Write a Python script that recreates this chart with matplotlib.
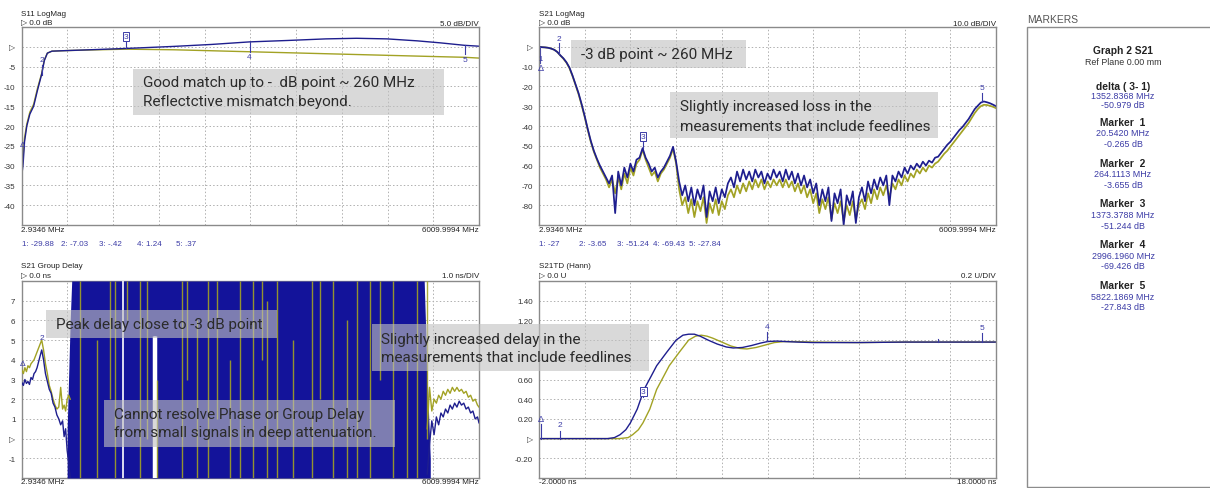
import numpy as np
import matplotlib
matplotlib.use("Agg")
import matplotlib.pyplot as plt
from matplotlib.patches import Rectangle

W, H = 1210, 489
fig = plt.figure(figsize=(W / 100, H / 100), dpi=100)

BLUE = "#1e1e8e"
YELLOW = "#a2a224"
FILLBLUE = "#13139a"
MARK = "#3b3ba6"
FRAME = "#8a8a8a"
GRIDC = "#b0b0b0"
SMALL = ["Liberation Sans", "DejaVu Sans"]
NOTE = ["Roboto", "DejaVu Sans"]

# ---------------- data ----------------
marker_mhz = [20.542, 264.1113, 1373.3788, 2996.1960, 5822.1869]

# S11 return loss
s11_freq = [3, 10, 20.542, 40, 70, 110, 160, 210, 264.1113, 300, 340, 400, 600, 900,
            1373.3788, 2000, 2500, 2996.196, 3500, 4000, 4400, 4800, 5200, 5500, 5822.1869, 6010]
s11_fixture = [-35, -31.5, -29.88, -24, -20, -17, -15, -11, -7.03, -3.5, -1.6, -1.1, -0.95, -0.75,
               -0.42, 0.1, 0.6, 1.24, 1.6, 2.0, 2.15, 2.0, 1.5, 1.0, 0.37, 0.15]
s11_feedline = [-33, -30, -28, -23, -19.5, -16.5, -14.5, -10.5, -6.8, -3.3, -1.6, -1.1, -0.95, -0.8,
                -0.6, -0.75, -1.0, -1.25, -1.5, -1.75, -1.95, -2.15, -2.35, -2.5, -2.65, -2.85]
s11_readout = [-29.88, -7.03, -0.42, 1.24, 0.37]

# S21 insertion loss, 151-point sweep
s21_start, s21_stop, s21_points = 2.9346, 6009.9994, 151
s21_fixture = [
    0.0, -0.2, -0.3, -0.5, -0.9, -1.5, -2.6, -4.3, -5.8, -7.8,
    -10.5, -14.5, -19.0, -23.5, -29.0, -35.0, -41.5, -47.5, -52.5, -56.5,
    -60.0, -63.0, -66.0, -69.0, -65.0, -84.0, -63.0, -70.0, -61.0, -66.0,
    -59.0, -63.0, -57.0, -56.0, -51.2, -56.0, -59.0, -63.0, -61.0, -66.0,
    -63.0, -61.0, -58.0, -55.0, -50.5, -58.0, -68.0, -75.0, -70.0, -78.0,
    -71.0, -80.0, -72.0, -77.0, -70.0, -86.0, -73.0, -78.0, -71.0, -79.0,
    -72.0, -76.0, -69.0, -66.0, -71.0, -63.0, -68.0, -62.0, -67.0, -63.0,
    -68.0, -62.0, -66.0, -63.0, -69.0, -64.0, -67.0, -62.0, -66.0, -63.0,
    -68.0, -62.0, -67.0, -63.0, -69.0, -64.0, -70.0, -65.0, -71.0, -67.0,
    -74.0, -69.0, -80.0, -72.0, -78.0, -71.0, -88.0, -74.0, -79.0, -72.0,
    -90.0, -75.0, -80.0, -73.0, -89.0, -76.0, -71.0, -78.0, -68.0, -74.0,
    -67.0, -72.0, -66.0, -70.0, -65.0, -80.0, -65.0, -68.0, -63.0, -66.0,
    -61.0, -64.0, -60.0, -62.0, -59.0, -61.0, -58.0, -60.0, -57.5, -58.5,
    -56.0, -55.5, -53.5, -51.5, -49.5, -48.0, -46.0, -44.0, -42.0, -40.5,
    -38.5, -36.5, -34.0, -31.5, -29.8, -28.2, -27.6, -28.0, -28.5, -29.2,
    -30.0]
s21_feedline = [
    0.0, -0.2, -0.3, -0.5, -0.9, -1.5, -2.6, -4.4, -6.0, -8.0,
    -10.8, -14.8, -19.3, -24.0, -29.5, -35.5, -42.0, -48.0, -53.0, -57.0,
    -61.0, -64.0, -67.0, -71.0, -67.0, -74.0, -66.0, -72.0, -64.0, -69.0,
    -61.0, -65.0, -59.0, -57.0, -52.0, -57.0, -61.0, -65.0, -63.0, -68.0,
    -64.0, -62.0, -59.0, -56.0, -51.5, -59.0, -72.0, -80.0, -76.0, -84.0,
    -77.0, -86.0, -78.0, -83.0, -76.0, -89.0, -79.0, -84.0, -77.0, -85.0,
    -78.0, -82.0, -75.0, -72.0, -76.0, -70.0, -74.0, -69.0, -73.0, -68.0,
    -72.0, -67.0, -71.0, -67.0, -72.0, -68.0, -71.0, -67.0, -70.0, -67.0,
    -71.0, -67.0, -71.0, -68.0, -73.0, -69.0, -74.0, -70.0, -76.0, -72.0,
    -79.0, -74.0, -84.0, -77.0, -82.0, -76.0, -87.0, -79.0, -84.0, -78.0,
    -88.0, -80.0, -85.0, -78.0, -87.0, -80.0, -77.0, -82.0, -74.0, -79.0,
    -72.0, -77.0, -71.0, -75.0, -70.0, -76.0, -69.0, -72.0, -67.0, -70.0,
    -65.0, -68.0, -64.0, -66.0, -62.0, -64.0, -61.0, -63.0, -60.0, -61.0,
    -59.0, -58.0, -56.0, -54.0, -52.5, -50.5, -48.5, -46.5, -44.5, -42.5,
    -40.5, -38.5, -36.0, -33.5, -31.5, -30.0, -29.3, -29.4, -29.8, -30.3,
    -31.0]
s21_marker_db = [-0.265, -3.655, -51.244, -69.426, -27.843]

# S21 group delay (ns): resolved at both band edges only
gd_low_freq = [3, 25, 45, 65, 85, 105, 125, 145, 165, 185, 205, 225, 245, 266, 290,
               315, 340, 365, 390, 415, 440, 465, 490, 515, 540, 560, 580, 600, 620, 640]
gd_low_fixture = [2.85, 2.7, 3.0, 2.8, 2.9, 2.75, 3.1, 3.0, 3.3, 3.4, 3.6, 3.9, 4.2, 4.5, 4.0,
                  3.3, 2.9, 2.5, 2.3, 1.8, 1.6, 1.2, 1.0, 0.7, 0.9, 0.1, 0.5, -0.6, -1.2, -2.0]
gd_low_feedline = [3.5, 3.3, 3.6, 3.4, 3.7, 3.6, 3.8, 3.9, 4.0, 4.2, 4.4, 4.6, 4.8, 5.0, 4.5,
                   3.8, 3.3, 2.7, 2.4, 2.0, 1.7, 1.5, 1.6, 2.6, 1.5, 1.7, 1.4, 2.0, 2.2, 2.0]
gd_high_freq = [5330, 5360, 5390, 5420, 5450, 5480, 5510, 5540, 5570, 5600, 5630, 5660,
                5690, 5720, 5750, 5780, 5810, 5840, 5870, 5900, 5930, 5960, 5990, 6010]
gd_high_fixture = [-1.8, -0.3, 0.9, 0.2, 1.1, 0.7, 1.3, 1.1, 1.5, 1.3, 1.7, 1.5,
                   1.8, 1.6, 1.9, 1.7, 1.8, 1.5, 1.6, 1.3, 1.4, 1.0, 1.1, 0.8]
gd_high_feedline = [0.5, 2.6, 1.4, 2.0, 1.8, 2.2, 2.0, 2.4, 2.2, 2.5, 2.3, 2.6,
                    2.4, 2.6, 2.4, 2.5, 2.3, 2.4, 2.1, 2.2, 1.9, 2.0, 1.7, 1.6]
# unresolved region: delay swings across the full display
gd_band_freq = [600, 640, 660, 5290, 5330, 5370]
gd_band_lo = [-2.0, -2.0, -2.0, -2.0, -2.0, -2.0]
gd_band_hi = [0.5, 6.0, 8.0, 8.0, 3.0, -1.0]
gd_spike_freq = [769, 992, 1163, 1229, 1387, 1557, 1649, 1781, 2109, 2175, 2306, 2451,
                 2569, 2740, 2871, 3042, 3160, 3226, 3357, 3567, 3817, 3922, 4093, 4277,
                 4408, 4579, 4711, 4882, 5066, 5197, 5328]
gd_spike_lo = [-2, -2, 2, -2, 6, -2, 0, -2, -2, 3, -2, -2, 1, -2, -2, -2,
               4, -2, -2, -2, -2, 2, -2, -2, -2, -2, 3, -2, -2, -2, 0]
gd_spike_hi = [8, 5, 8, 8, 8, 8, 8, 3, 8, 8, 6, 8, 8, 4, 8, 8,
               8, 7, 8, 5, 8, 8, 8, 6, 8, 8, 8, 8, 4, 8, 8]
gd_gap_freq = [1334, 1742, 1758]
gd_gap_lo = [-2, -2, -2]
gd_gap_hi = [8, 5.2, 5.2]

# S21 time-domain step response (Hann window)
td_time_fixture = [-2, 1.0, 1.3, 1.55, 1.8, 2.0, 2.3, 2.6, 2.9, 3.15, 3.6, 4.0, 4.3, 4.55,
                   4.8, 5.05, 5.4, 5.8, 6.2, 6.5, 6.9, 7.3, 7.7, 8.0, 8.4, 8.8, 9.3, 10,
                   12, 14, 16, 18]
td_fixture = [0, 0, 0.01, 0.04, 0.09, 0.16, 0.3, 0.5, 0.63, 0.74, 0.88, 1.0, 1.05, 1.06,
              1.06, 1.04, 1.0, 0.96, 0.93, 0.92, 0.925, 0.945, 0.97, 0.985, 0.99, 0.985,
              0.98, 0.975, 0.975, 0.98, 0.98, 0.98]
td_time_feedline = [-2, 1.5, 1.9, 2.1, 2.35, 2.55, 2.85, 3.15, 3.45, 3.7, 4.15, 4.55, 4.85,
                    5.1, 5.35, 5.6, 6.0, 6.4, 6.8, 7.1, 7.5, 7.9, 8.3, 8.7, 9.2, 10, 12,
                    14, 16, 18]
td_feedline = [0, 0, 0.01, 0.04, 0.09, 0.16, 0.3, 0.5, 0.63, 0.74, 0.88, 1.0, 1.04, 1.05,
               1.04, 1.02, 0.98, 0.94, 0.915, 0.91, 0.925, 0.95, 0.975, 0.985, 0.985, 0.98,
               0.975, 0.98, 0.98, 0.98]
td_marker_ns = [-2.0, -1.1, 2.57, 7.97, 17.4]

s11_ticks = [0, -5, -10, -15, -20, -25, -30, -35, -40]
s21_ticks = [0, -10, -20, -30, -40, -50, -60, -70, -80]
gd_ticks = [7, 6, 5, 4, 3, 2, 1, 0, -1]
td_ticks = [1.4, 1.2, 1.0, 0.8, 0.6, 0.4, 0.2, 0.0, -0.2]
td_tick_labels = ["1.40", "1.20", "", "", "0.60", "0.40", "0.20", "\u25b7", "-0.20"]


# ---------------- helpers ----------------
def fx(x):
    return x / W


def fy(y):
    return 1 - y / H


def axes_px(x0, y0, x1, y1):
    return fig.add_axes([fx(x0), fy(y1), (x1 - x0) / W, (y1 - y0) / H])


def ftext(x, y, s, size=5.8, color="#222222", ha="left", weight="normal", family=SMALL, z=12):
    fig.text(fx(x), fy(y), s, fontsize=size, color=color, ha=ha, va="center",
             fontweight=weight, family=family, zorder=z)


def panel(ax, xlim, ylim, ticks, labels):
    ax.set_xlim(*xlim)
    ax.set_ylim(*ylim)
    ax.set_xticks(np.linspace(xlim[0], xlim[1], 11)[1:-1])
    ax.set_xticklabels([])
    ax.set_yticks(ticks)
    ax.set_yticklabels(labels, fontsize=5.8, color="#333333", family=SMALL)
    ax.tick_params(length=0, pad=4.5)
    ax.grid(True, ls=(0, (1.5, 2.2)), color=GRIDC, lw=0.7)
    ax.set_axisbelow(True)
    for s in ax.spines.values():
        s.set_color(FRAME)
        s.set_linewidth(1.0)


def fmt_label(v, fmt):
    return "\u25b7" if v == 0 else fmt.format(v)


def tick_marker(ax, x, y0, y1, label, ly, boxed=False, size=6.0):
    ax.plot([x, x], [y0, y1], color=MARK, lw=0.8, zorder=5)
    bbox = dict(boxstyle="square,pad=0.1", fc="white", ec=MARK, lw=0.7) if boxed else None
    ax.text(x, ly, label, color=MARK, fontsize=size, ha="center", va="center",
            family=SMALL, bbox=bbox, zorder=6)


def note(x0, y0, x1, y1, lines, tx, ty, size=11.0):
    fig.add_artist(Rectangle((fx(x0), fy(y1)), (x1 - x0) / W, (y1 - y0) / H,
                             transform=fig.transFigure, fc="#c1c1c1", ec="none",
                             alpha=0.61, zorder=10))
    for s, yy in zip(lines, ty):
        ftext(tx, yy, s, size=size, color="#2b2b2b", family=NOTE, z=11)


# ---------------- S11 LogMag ----------------
ax1 = axes_px(21.7, 28, 479, 226)
panel(ax1, (2.9346, 6009.9994), (-45, 5), s11_ticks, [fmt_label(v, "{:d}") for v in s11_ticks])
ax1.plot(s11_freq, s11_feedline, color=YELLOW, lw=1.0)
ax1.plot(s11_freq, s11_fixture, color=BLUE, lw=1.0)
ax1.text(marker_mhz[0], -24.6, "\u0394", color=MARK, fontsize=6, ha="center", va="center", family=SMALL)
tick_marker(ax1, marker_mhz[1], s11_readout[1], -4.5, "2", -3.2)
tick_marker(ax1, marker_mhz[2], s11_readout[2], 1.2, "3", 2.6, boxed=True)
tick_marker(ax1, marker_mhz[3], s11_readout[3], -1.2, "4", -2.4)
tick_marker(ax1, marker_mhz[4], s11_readout[4], -1.8, "5", -3.1)

ftext(21, 15, "S11 LogMag")
ftext(21, 24, "\u25b7 0.0 dB")
ftext(479, 24, "5.0 dB/DIV", ha="right")
ftext(21, 231, "2.9346 MHz")
ftext(479, 231, "6009.9994 MHz", ha="right")
for xx, s in zip([22, 61, 99, 137, 176], ["1: -29.88", "2: -7.03", "3: -.42", "4: 1.24", "5: .37"]):
    ftext(xx, 245, s, color=MARK)

# ---------------- S21 LogMag ----------------
s21_freq = np.linspace(s21_start, s21_stop, s21_points)
ax2 = axes_px(539, 28, 996, 226)
panel(ax2, (2.9346, 6009.9994), (-90, 10), s21_ticks, [fmt_label(v, "{:d}") for v in s21_ticks])
ax2.plot(s21_freq, s21_feedline, color=YELLOW, lw=1.25)
ax2.plot(s21_freq, s21_fixture, color=BLUE, lw=1.25)
ax2.plot([marker_mhz[0], marker_mhz[0]], [s21_marker_db[0], -8], color=MARK, lw=0.8)
ax2.text(marker_mhz[0], -10.6, "\u0394", color=MARK, fontsize=6.5, ha="center", va="center", family=SMALL)
ax2.text(marker_mhz[0], -6.0, "1", color=MARK, fontsize=5.5, ha="center", va="center", family=SMALL)
tick_marker(ax2, marker_mhz[1], s21_marker_db[1], 2.0, "2", 4.0)
tick_marker(ax2, marker_mhz[2], s21_marker_db[2], -47.5, "3", -45.2, boxed=True)
tick_marker(ax2, marker_mhz[4], s21_marker_db[4], -23.5, "5", -20.5)

ftext(539, 15, "S21 LogMag")
ftext(539, 24, "\u25b7 0.0 dB")
ftext(996, 24, "10.0 dB/DIV", ha="right")
ftext(539, 231, "2.9346 MHz")
ftext(996, 231, "6009.9994 MHz", ha="right")
for xx, s in zip([539, 579, 617, 653, 689], ["1: -27", "2: -3.65", "3: -51.24", "4: -69.43", "5: -27.84"]):
    ftext(xx, 245, s, color=MARK)

# ---------------- S21 Group Delay ----------------
ax3 = axes_px(21.7, 282, 479, 479)
panel(ax3, (2.9346, 6009.9994), (-2, 8), gd_ticks, [fmt_label(v, "{:d}") for v in gd_ticks])
ax3.fill_between(gd_band_freq, gd_band_lo, gd_band_hi, color=FILLBLUE, lw=0, zorder=3)
ax3.vlines(gd_gap_freq, gd_gap_lo, gd_gap_hi, color="white", lw=[1.2, 2.5, 2.5], zorder=4)
ax3.vlines(gd_spike_freq, gd_spike_lo, gd_spike_hi, color=YELLOW, lw=1.0, alpha=0.9, zorder=4)
ax3.plot(gd_low_freq, gd_low_feedline, color=YELLOW, lw=1.0, zorder=3)
ax3.plot(gd_low_freq, gd_low_fixture, color=BLUE, lw=1.0, zorder=3)
ax3.plot(gd_high_freq, gd_high_feedline, color=YELLOW, lw=1.0, zorder=3)
ax3.plot(gd_high_freq, gd_high_fixture, color=BLUE, lw=1.0, zorder=3)
ax3.text(marker_mhz[0], 3.8, "\u0394", color=MARK, fontsize=6, ha="center", va="center", family=SMALL)
ax3.text(marker_mhz[1], 5.15, "2", color=MARK, fontsize=6, ha="center", va="center", family=SMALL)

ftext(21, 267, "S21 Group Delay")
ftext(21, 277, "\u25b7 0.0 ns")
ftext(479, 277, "1.0 ns/DIV", ha="right")
ftext(21, 483, "2.9346 MHz")
ftext(479, 483, "6009.9994 MHz", ha="right")

# ---------------- S21 time domain ----------------
ax4 = axes_px(539, 282, 996, 479)
panel(ax4, (-2, 18), (-0.4, 1.6), td_ticks, td_tick_labels)
ax4.plot(td_time_feedline, td_feedline, color=YELLOW, lw=1.0)
ax4.plot(td_time_fixture, td_fixture, color=BLUE, lw=1.0)
ax4.text(td_marker_ns[0] + 0.08, 0.2, "\u0394", color=MARK, fontsize=6.5, ha="center", va="center", family=SMALL)
ax4.plot([td_marker_ns[0] + 0.08, td_marker_ns[0] + 0.08], [0, 0.15], color=MARK, lw=0.8)
tick_marker(ax4, td_marker_ns[1], 0.0, 0.08, "2", 0.14)
tick_marker(ax4, td_marker_ns[2], 0.48, 0.42, "3", 0.48, boxed=True)
tick_marker(ax4, td_marker_ns[3], 0.99, 1.08, "4", 1.14)
tick_marker(ax4, td_marker_ns[4], 0.98, 1.07, "5", 1.13)
ax4.plot([15.45, 15.45], [0.98, 1.01], color=MARK, lw=0.8)

ftext(539, 267, "S21TD (Hann)")
ftext(539, 277, "\u25b7 0.0 U")
ftext(996, 277, "0.2 U/DIV", ha="right")
ftext(539, 483, "-2.0000 ns")
ftext(996, 483, "18.0000 ns", ha="right")

# ---------------- marker readout panel ----------------
ftext(1027, 20, "MARKERS", size=7.4, color="#555555")
fig.add_artist(Rectangle((fx(1027), fy(488)), (1212 - 1027) / W, (488 - 28) / H,
                         transform=fig.transFigure, fc="white", ec="#8c8c8c", lw=1.0, zorder=1))
cx = 1123
ftext(cx, 51, "Graph 2 S21", size=7.4, weight="bold", ha="center")
ftext(cx, 62.7, "Ref Plane 0.00 mm", size=6.4, ha="center", color="#333333")
ftext(cx, 87.3, "delta ( 3- 1)", size=7.4, weight="bold", ha="center")
ftext(cx, 96.9, "1352.8368 MHz", size=6.4, ha="center", color=MARK)
ftext(cx, 105.5, "-50.979 dB", size=6.4, ha="center", color=MARK)
for k, (f, d) in enumerate(zip(marker_mhz, s21_marker_db)):
    y0 = 122.7 + 40.9 * k
    ftext(cx, y0, f"Marker  {k + 1}", size=7.4, weight="bold", ha="center")
    ftext(cx, y0 + 10.8, f"{f:.4f} MHz", size=6.4, ha="center", color=MARK)
    ftext(cx, y0 + 21.6, f"{d:.3f} dB", size=6.4, ha="center", color=MARK)

# ---------------- notes ----------------
note(133, 70, 444, 116, ["Good match up to -  dB point ~ 260 MHz", "Reflectctive mismatch beyond."],
     143.3, [83.3, 101.7])
note(571, 41, 746, 69, ["-3 dB point ~ 260 MHz"], 581, [55.5])
note(670, 93, 938, 139, ["Slightly increased loss in the", "measurements that include feedlines"],
     680, [107.3, 126.7])
note(46, 311, 277, 339, ["Peak delay close to -3 dB point"], 56, [325.5])
note(104, 401, 395, 448, ["Cannot resolve Phase or Group Delay", "from small signals in deep attenuation."],
     114.3, [415, 433.3])
note(372, 325, 649, 372, ["Slightly increased delay in the", "measurements that include feedlines"],
     381, [340, 358.3])

fig.savefig("out.png", dpi=100)
